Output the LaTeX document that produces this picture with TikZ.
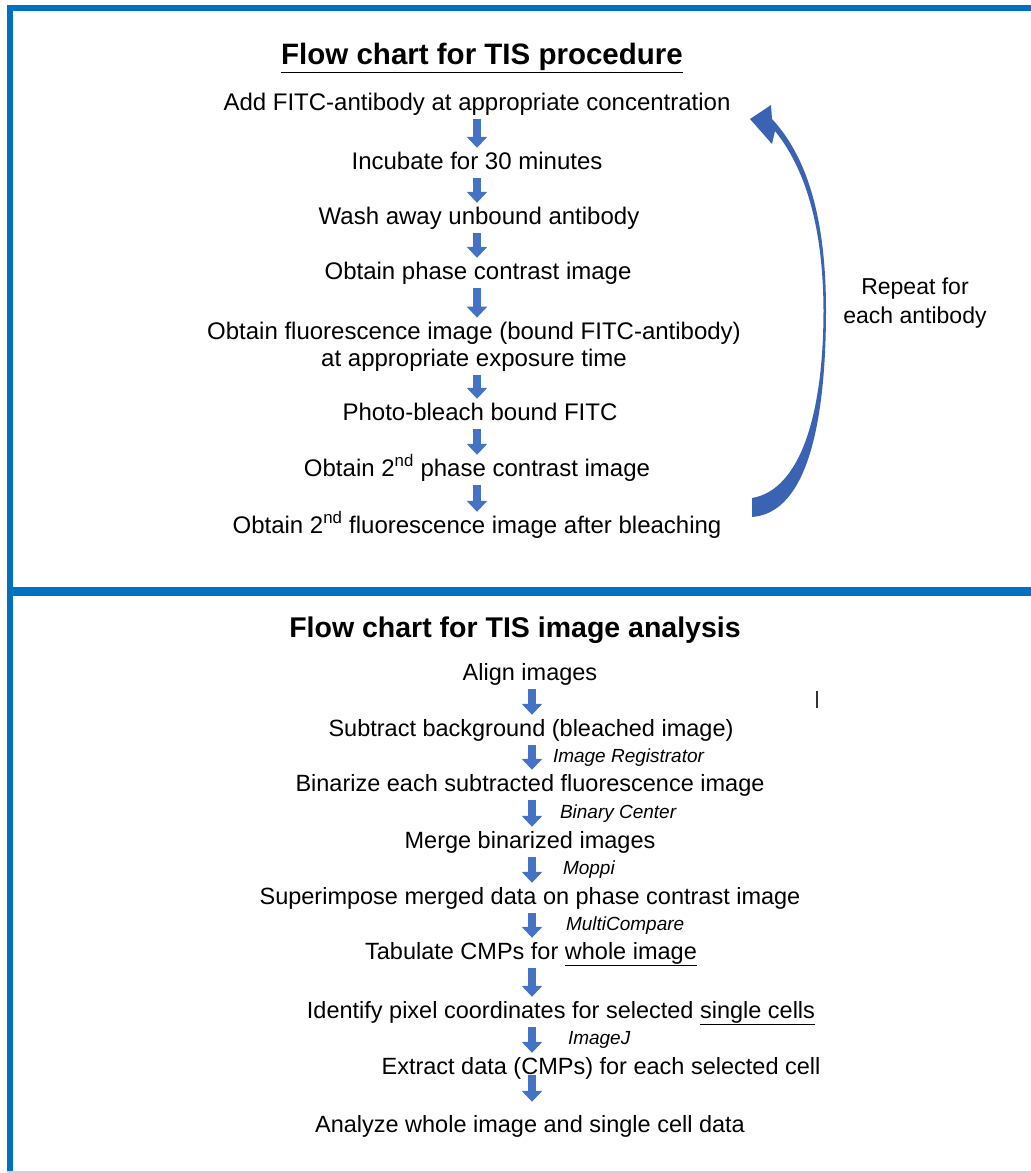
\documentclass[tikz,border=0pt]{standalone}
\usepackage{fontspec}
\setmainfont{Liberation Sans}
\usepackage{xcolor}
\usetikzlibrary{arrows.meta, positioning}

\definecolor{frameblue}{HTML}{0070C0}
\definecolor{arrowblue}{HTML}{4472C4}
\definecolor{curveblue}{HTML}{3A64B3}
\definecolor{edgeblue}{HTML}{BDD7EE}

\begin{document}
\begin{tikzpicture}[x=1pt, y=-1pt,
    frame/.style={draw=frameblue, line width=6pt},
    title/.style={font=\fontsize{29.5}{32}\selectfont\bfseries, inner sep=0pt},
    stepnode/.style={font=\fontsize{24}{28}\selectfont, text height=17pt, text depth=5pt, inner xsep=0pt, inner ysep=4pt},
    twoline/.style={font=\fontsize{24}{27}\selectfont, align=center, inner xsep=0pt, inner ysep=4pt},
    stepnodeb/.style={stepnode, font=\fontsize{23.5}{27}\selectfont},
    flow/.style={draw=arrowblue, line width=8pt, -{Triangle[width=20pt,length=11pt]}},
    tool/.style={font=\fontsize{19}{22}\selectfont\itshape, inner sep=0pt, anchor=west, xshift=17pt}
  ]
    \useasboundingbox (0,0) rectangle (1031,1173);

    % Frames
    \draw[frame] (1040,8) -- (10,8) -- (10,1173);
    \draw[frame, line width=9pt] (7,591.5) -- (1040,591.5);
    \draw[edgeblue, line width=2pt] (7,1171.5) -- (1040,1171.5);

    % Procedure
    \node[title] (titleA) at (482,58) {\underline{Flow chart for TIS procedure}};
    \coordinate (axisA) at (477,0);

    \node[stepnode] (add) at (477,104) {Add FITC-antibody at appropriate concentration};
    \node[stepnode] (incubate) at (477,163) {Incubate for 30 minutes};
    \node[stepnode] (wash) at (479,218) {Wash away unbound antibody};
    \node[stepnode] (phase) at (478,273) {Obtain phase contrast image};
    \node[twoline] (fluor) at (474,346.5) {Obtain fluorescence image (bound FITC-antibody)\\at appropriate exposure time};
    \node[stepnode] (bleach) at (480,414) {Photo-bleach bound FITC};
    \node[stepnode] (phasetwo) at (477,470) {Obtain 2\textsuperscript{nd} phase contrast image};
    \node[stepnode] (fluortwo) at (477,527) {Obtain 2\textsuperscript{nd} fluorescence image after bleaching};

    \draw[flow] (add.south -| axisA) -- (incubate.north -| axisA);
    \draw[flow] (incubate.south -| axisA) -- (wash.north -| axisA);
    \draw[flow] (wash.south -| axisA) -- (phase.north -| axisA);
    \draw[flow] (phase.south -| axisA) -- (fluor.north -| axisA);
    \draw[flow] (fluor.south -| axisA) -- (bleach.north -| axisA);
    \draw[flow] (bleach.south -| axisA) -- (phasetwo.north -| axisA);
    \draw[flow] (phasetwo.south -| axisA) -- (fluortwo.north -| axisA);

    % Loop back
    \fill[curveblue] (752,498) -- (752,517)
        .. controls (808,513) and (826,420) .. (826,310)
        .. controls (826,205) and (801,150) .. (772,119)
        -- (771,105) -- (750,119) -- (772,144) -- (775,131)
        .. controls (800,162) and (823,215) .. (823.5,310)
        .. controls (823.5,415) and (800,490) .. (752,498) -- cycle;
    \node[font=\fontsize{23}{29}\selectfont, align=center] (repeat) at (915,303.5) {Repeat for\\each antibody};

    % Image analysis
    \node[title, font=\fontsize{28.5}{32}\selectfont\bfseries] (titleB) at (515,630) {Flow chart for TIS image analysis};
    \coordinate (axisB) at (532,0);

    \node[stepnodeb] (align) at (530,674) {Align images};
    \node[stepnodeb] (subtract) at (531,730) {Subtract background (bleached image)};
    \node[stepnodeb] (binarize) at (530,785) {Binarize each subtracted fluorescence image};
    \node[stepnodeb] (merge) at (530,842) {Merge binarized images};
    \node[stepnodeb] (superimpose) at (530,898) {Superimpose merged data on phase contrast image};
    \node[stepnodeb] (tabulate) at (531,953) {Tabulate CMPs for \underline{whole image}};
    \node[stepnodeb] (identify) at (561,1012) {Identify pixel coordinates for selected \underline{single cells}};
    \node[stepnodeb] (extract) at (601,1068) {Extract data (CMPs) for each selected cell};
    \node[stepnodeb] (analyze) at (530,1126) {Analyze whole image and single cell data};

    \draw[flow] (align.south -| axisB) -- (subtract.north -| axisB);
    \draw[flow] (subtract.south -| axisB) -- node[tool] {Image Registrator} (binarize.north -| axisB);
    \draw[flow] (binarize.south -| axisB) -- node[tool, xshift=7pt] {Binary Center} (merge.north -| axisB);
    \draw[flow] (merge.south -| axisB) -- node[tool, xshift=10pt] {Moppi} (superimpose.north -| axisB);
    \draw[flow] (superimpose.south -| axisB) -- node[tool, xshift=13pt] {MultiCompare} (tabulate.north -| axisB);
    \draw[flow] (tabulate.south -| axisB) -- (identify.north -| axisB);
    \draw[flow] (identify.south -| axisB) -- node[tool, xshift=15pt] {ImageJ} (extract.north -| axisB);
    \draw[flow, shorten <=-8pt, shorten >=9pt] (extract.south -| axisB) -- (analyze.north -| axisB);

    % stray mark
    \draw[black!80, line width=2pt] (817,691) -- (817,708);
\end{tikzpicture}
\end{document}
